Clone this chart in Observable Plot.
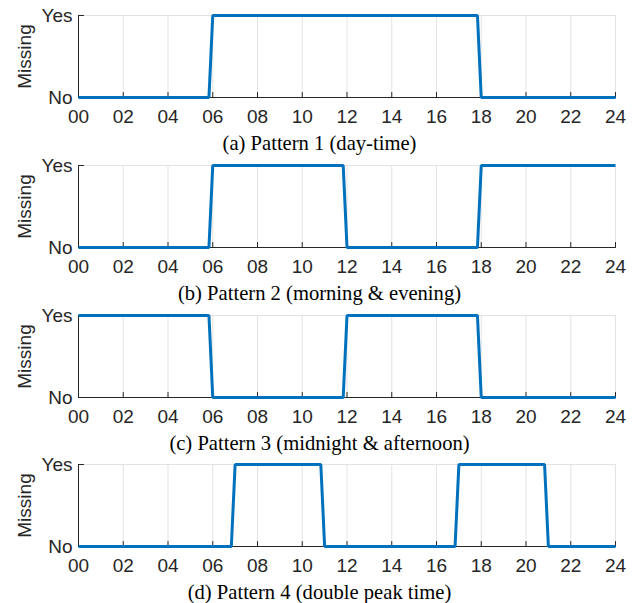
<!DOCTYPE html>
<html>
<head>
<meta charset="utf-8">
<script src="https://cdn.jsdelivr.net/npm/d3@7"></script>
<script src="https://cdn.jsdelivr.net/npm/@observablehq/plot@0.6"></script>
<style>
  body { margin: 0; background: #fff; }
  #root { position: relative; width: 639px; height: 603px; overflow: hidden; background: #fff; }
  .panel { position: absolute; left: 0; width: 639px; height: 150px; }
  .panel svg { position: absolute; left: 0; top: 0; background: transparent; }
  .cap { position: absolute; left: 0; width: 639px; text-align: center; z-index: 5;
         font-family: "Liberation Serif", "Times New Roman", serif; font-size: 20.6px;
         color: #000; line-height: 22px; white-space: nowrap; }
</style>
</head>
<body>
<div id="root"></div>
<script>
// ---- data ----
const hourTicks = [0, 2, 4, 6, 8, 10, 12, 14, 16, 18, 20, 22, 24];
const hourLabels = ["00", "02", "04", "06", "08", "10", "12", "14", "16", "18", "20", "22", "24"];
const stateTicks = [0, 1];
const stateLabels = ["No", "Yes"];
const yTitle = "Missing";

const captions = [
  "(a) Pattern 1 (day-time)",
  "(b) Pattern 2 (morning & evening)",
  "(c) Pattern 3 (midnight & afternoon)",
  "(d) Pattern 4 (double peak time)"
];

// hour of day, missing state (0 = No, 1 = Yes)
const p1Time  = [0, 5.83, 6, 17.83, 18, 24];
const p1State = [0, 0,    1, 1,     0,  0];

const p2Time  = [0, 5.83, 6, 11.83, 12, 17.83, 18, 24];
const p2State = [0, 0,    1, 1,     0,  0,     1,  1];

const p3Time  = [0, 5.83, 6, 11.83, 12, 17.83, 18, 24];
const p3State = [1, 1,    0, 0,     1,  1,     0,  0];

const p4Time  = [0, 6.83, 7, 10.83, 11, 16.83, 17, 20.83, 21, 24];
const p4State = [0, 0,    1, 1,     0,  0,     1,  1,     0,  0];

const patterns = [
  [p1Time, p1State],
  [p2Time, p2State],
  [p3Time, p3State],
  [p4Time, p4State]
];

// ---- layout ----
const panelTops = [0, 150, 299.5, 449];
const W = 639, H = 128;
const axisColor = "#262626";
const gridColor = "#e3e3e3";
const lineColor = "#0072BD";

const tickShape = {
  draw(context, l) { context.moveTo(0, 0); context.lineTo(0, -l); }
};

const root = document.getElementById("root");

patterns.forEach(([times, states], i) => {
  const data = times.map((t, j) => ({time: t, state: states[j]}));
  const panel = document.createElement("div");
  panel.className = "panel";
  panel.style.top = panelTops[i] + "px";

  const chart = Plot.plot({
    width: W,
    height: H,
    marginTop: 15,
    marginBottom: 31,
    marginLeft: 78,
    marginRight: 24,
    style: {fontFamily: "'Liberation Sans', Arial, sans-serif", fontSize: "19px", color: axisColor, background: "transparent", overflow: "visible"},
    x: {domain: [0, 24]},
    y: {domain: [0, 1]},
    marks: [
      Plot.gridX(hourTicks, {stroke: gridColor, strokeOpacity: 1, strokeWidth: 1}),
      Plot.gridY([1], {stroke: gridColor, strokeOpacity: 1, strokeWidth: 1}),
      Plot.ruleX([0], {stroke: axisColor, strokeWidth: 1}),
      Plot.ruleY([0], {stroke: axisColor, strokeWidth: 1}),
      Plot.vector(hourTicks, {x: d => d, frameAnchor: "bottom", length: 5, rotate: 0, anchor: "start", shape: tickShape, stroke: axisColor, strokeWidth: 1}),
      Plot.vector(stateTicks, {y: d => d, frameAnchor: "left", length: 5, rotate: 90, anchor: "start", shape: tickShape, stroke: axisColor, strokeWidth: 1}),
      Plot.axisX({ticks: hourTicks, tickFormat: d => hourLabels[hourTicks.indexOf(d)], tickSize: 0, tickPadding: 12, label: null, fill: axisColor}),
      Plot.axisY({ticks: stateTicks, tickFormat: d => stateLabels[stateTicks.indexOf(d)], tickSize: 0, tickPadding: 6, label: null, fill: axisColor}),
      Plot.text([yTitle], {frameAnchor: "left", textAnchor: "middle", lineAnchor: "middle", dx: -54, rotate: -90, text: d => d, fill: axisColor, fontSize: 19}),
      Plot.line(data, {x: "time", y: "state", stroke: lineColor, strokeWidth: 3, strokeLinejoin: "miter", strokeLinecap: "butt"})
    ]
  });
  panel.appendChild(chart);

  const cap = document.createElement("div");
  cap.className = "cap";
  cap.style.top = "132px";
  cap.textContent = captions[i];
  panel.appendChild(cap);

  root.appendChild(panel);
});
</script>
</body>
</html>
